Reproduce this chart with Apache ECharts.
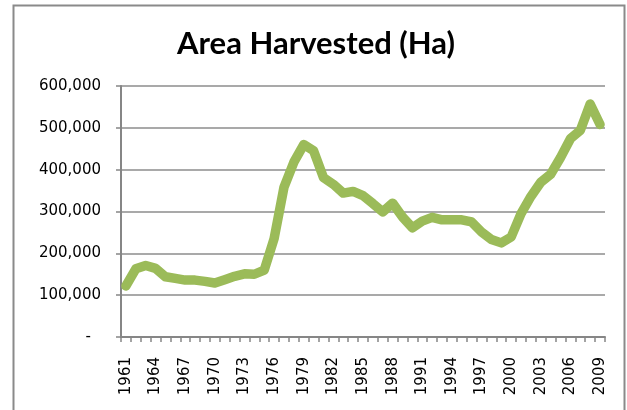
<!DOCTYPE html>
<html>
<head>
<meta charset="utf-8">
<script src="https://cdn.jsdelivr.net/npm/echarts@6/dist/echarts.min.js"></script>
<style>
  html, body { margin: 0; padding: 0; background: #fff; }
  #AreaChart { width: 627px; height: 410px; }
</style>
</head>
<body>
<div id="AreaChart"></div>
<script>
// years 1961 - 2009
var years = [
    '1961','1962','1963','1964','1965','1966','1967','1968','1969','1970',
    '1971','1972','1973','1974','1975','1976','1977','1978','1979','1980',
    '1981','1982','1983','1984','1985','1986','1987','1988','1989','1990',
    '1991','1992','1993','1994','1995','1996','1997','1998','1999','2000',
    '2001','2002','2003','2004','2005','2006','2007','2008','2009'
];
// area harvested, hectares
var areaHa = [
    122000, 163000, 171000, 164000, 144000, 140000, 136000, 136000, 133000, 129000,
    137000, 145000, 151000, 150000, 160000, 235000, 358000, 418000, 460000, 445000,
    381000, 365000, 344000, 348000, 338000, 319000, 299000, 320000, 287000, 261000,
    277000, 286000, 280000, 280000, 280000, 275000, 251000, 233000, 225000, 239000,
    295000, 336000, 370000, 389000, 429000, 474000, 494000, 557000, 508000
];
var yTicks = [0, 100000, 200000, 300000, 400000, 500000, 600000];

var chart = echarts.init(document.getElementById('AreaChart'));
var option = {
    animation: false,
    backgroundColor: '#fff',
    title: {
        text: 'Area Harvested (Ha)',
        left: 311,
        top: 23,
        textAlign: 'center',
        textStyle: {
            fontFamily: 'Lato',
            fontWeight: 'bold',
            fontSize: 31,
            color: '#000'
        }
    },
    graphic: [{
        type: 'rect',
        shape: { x: 13.5, y: 5.5, width: 611, height: 420 },
        style: { fill: 'none', stroke: '#8a8a8a', lineWidth: 2 },
        silent: true
    }],
    grid: { left: 121, right: 22, top: 86, bottom: 73 },
    xAxis: {
        type: 'category',
        data: years,
        boundaryGap: true,
        axisLine: { lineStyle: { color: '#868686', width: 2 } },
        axisTick: { show: true, interval: 0, length: 5, lineStyle: { color: '#868686', width: 1.5 } },
        axisLabel: {
            interval: 2,
            rotate: 90,
            margin: 20,
            fontFamily: 'DejaVu Sans',
            fontSize: 15,
            color: '#000'
        }
    },
    yAxis: {
        type: 'value',
        min: yTicks[0],
        max: yTicks[yTicks.length - 1],
        interval: yTicks[1] - yTicks[0],
        axisLine: { show: true, lineStyle: { color: '#868686', width: 2 } },
        axisTick: { show: true, length: 5, lineStyle: { color: '#868686', width: 1.5 } },
        splitLine: { lineStyle: { color: '#8c8c8c', width: 1.5 } },
        axisLabel: {
            margin: 20,
            fontFamily: 'DejaVu Sans',
            fontSize: 15,
            color: '#000',
            formatter: function (v) {
                if (v === 0) return '{dash|-}';
                return v.toLocaleString('en-US');
            },
            rich: {
                dash: { fontFamily: 'DejaVu Sans', fontSize: 15, color: '#000', padding: [0, 10, 0, 0] }
            }
        }
    },
    series: [{
        type: 'line',
        data: areaHa,
        symbol: 'none',
        smooth: false,
        lineStyle: { color: '#9bbb59', width: 9.5, cap: 'round', join: 'round' }
    }]
};
chart.setOption(option);
</script>
</body>
</html>
